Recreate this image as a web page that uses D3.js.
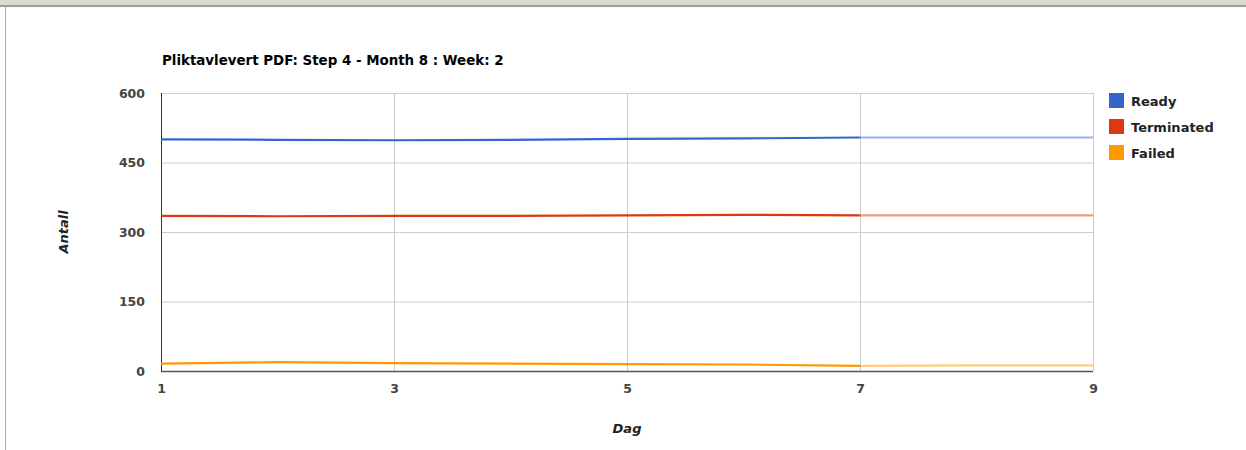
<!DOCTYPE html>
<html>
<head>
<meta charset="utf-8">
<script src="https://cdn.jsdelivr.net/npm/d3@7"></script>
<style>
  body { margin: 0; background: #fff; }
  svg { display: block; font-family: "DejaVu Sans", Arial, sans-serif; }
</style>
</head>
<body>
<svg width="1246" height="450"></svg>
<script>
var days = [1, 2, 3, 4, 5, 6, 7, 8, 9];
var ready = [500, 499, 498, 499, 501, 502, 504, 504, 504];
var terminated = [335, 334, 335, 335, 336, 337, 336, 336, 336];
var failed = [16, 19, 17, 16, 15, 14, 11, 12, 12];
var seriesNames = ["Ready", "Terminated", "Failed"];
var seriesColors = ["#3366cc", "#dc3912", "#ff9900"];
var yTicks = [0, 150, 300, 450, 600];
var xTicks = [1, 3, 5, 7, 9];
var lastSolidDay = 7;

var svg = d3.select("svg");

// page frame around the chart
svg.append("rect").attr("x", 0).attr("y", 0).attr("width", 1246).attr("height", 5).attr("fill", "#dcd8d2");
svg.append("rect").attr("x", 0).attr("y", 5).attr("width", 1246).attr("height", 2).attr("fill", "#a09e9a");
svg.append("rect").attr("x", 5).attr("y", 7).attr("width", 1).attr("height", 443).attr("fill", "#a8a8a8");

var margin = {top: 93, left: 161},
    width = 932, height = 278;
var g = svg.append("g").attr("transform", "translate(" + margin.left + "," + margin.top + ")");

var x = d3.scaleLinear().domain([1, 9]).range([0, width]);
var y = d3.scaleLinear().domain([0, 600]).range([height, 0]);

// grid
g.selectAll(".hgrid").data(yTicks).enter().append("line")
    .attr("x1", 0).attr("x2", width)
    .attr("y1", function(d) { return y(d) + 0.5; })
    .attr("y2", function(d) { return y(d) + 0.5; })
    .attr("stroke", "#cccccc");
g.selectAll(".vgrid").data(xTicks.slice(1)).enter().append("line")
    .attr("y1", 0).attr("y2", height)
    .attr("x1", function(d) { return Math.round(x(d)) + 0.5; })
    .attr("x2", function(d) { return Math.round(x(d)) + 0.5; })
    .attr("stroke", "#cccccc");

// axes
var yAxis = g.append("g").call(d3.axisLeft(y).tickValues(yTicks).tickSize(0).tickPadding(16));
var xAxis = g.append("g").attr("transform", "translate(0," + height + ")")
    .call(d3.axisBottom(x).tickValues(xTicks).tickSize(0).tickPadding(13));
[yAxis, xAxis].forEach(function(a) {
  a.select(".domain").remove();
  a.selectAll("text").attr("font-size", 12.5).attr("font-weight", "bold").attr("fill", "#444")
    .attr("font-family", "DejaVu Sans, Arial, sans-serif");
});
g.append("line").attr("x1", 0.5).attr("x2", 0.5).attr("y1", 0).attr("y2", height + 1)
    .attr("stroke", "#333").attr("stroke-width", 1);
g.append("line").attr("x1", 0).attr("x2", width).attr("y1", height + 0.5).attr("y2", height + 0.5)
    .attr("stroke", "#555").attr("stroke-width", 1.5);

// lines
var data = [ready, terminated, failed];
var line = d3.line()
    .x(function(d) { return x(d.day); })
    .y(function(d) { return y(d.v); });

data.forEach(function(vals, i) {
  var pts = days.map(function(d, j) { return {day: d, v: vals[j]}; });
  var solid = pts.filter(function(p) { return p.day <= lastSolidDay; });
  var faded = pts.filter(function(p) { return p.day >= lastSolidDay; });
  g.append("path").datum(faded)
      .attr("fill", "none").attr("stroke", seriesColors[i]).attr("stroke-opacity", 0.5)
      .attr("stroke-width", 2.2).attr("d", line);
  g.append("path").datum(solid)
      .attr("fill", "none").attr("stroke", seriesColors[i])
      .attr("stroke-width", 2.2).attr("d", line);
});

// title
svg.append("text").attr("x", 162).attr("y", 65)
    .attr("font-size", 13.4).attr("font-weight", "bold").attr("fill", "#000")
    .text("Pliktavlevert PDF: Step 4 - Month 8 : Week: 2");

// axis titles
svg.append("text").attr("x", 627).attr("y", 433).attr("text-anchor", "middle")
    .attr("font-size", 13).attr("font-weight", "bold").attr("font-style", "italic").attr("fill", "#222")
    .text("Dag");
svg.append("text").attr("transform", "translate(68,232) rotate(-90)").attr("text-anchor", "middle")
    .attr("font-size", 13).attr("font-weight", "bold").attr("font-style", "italic").attr("fill", "#222")
    .text("Antall");

// legend
var legend = svg.selectAll(".legend").data(seriesNames).enter().append("g")
    .attr("transform", function(d, i) { return "translate(1109," + (93 + i * 26) + ")"; });
legend.append("rect").attr("width", 15).attr("height", 15)
    .attr("fill", function(d, i) { return seriesColors[i]; });
legend.append("text").attr("x", 22).attr("y", 12.5)
    .attr("font-size", 13).attr("font-weight", "bold").attr("fill", "#222")
    .text(function(d) { return d; });
</script>
</body>
</html>
